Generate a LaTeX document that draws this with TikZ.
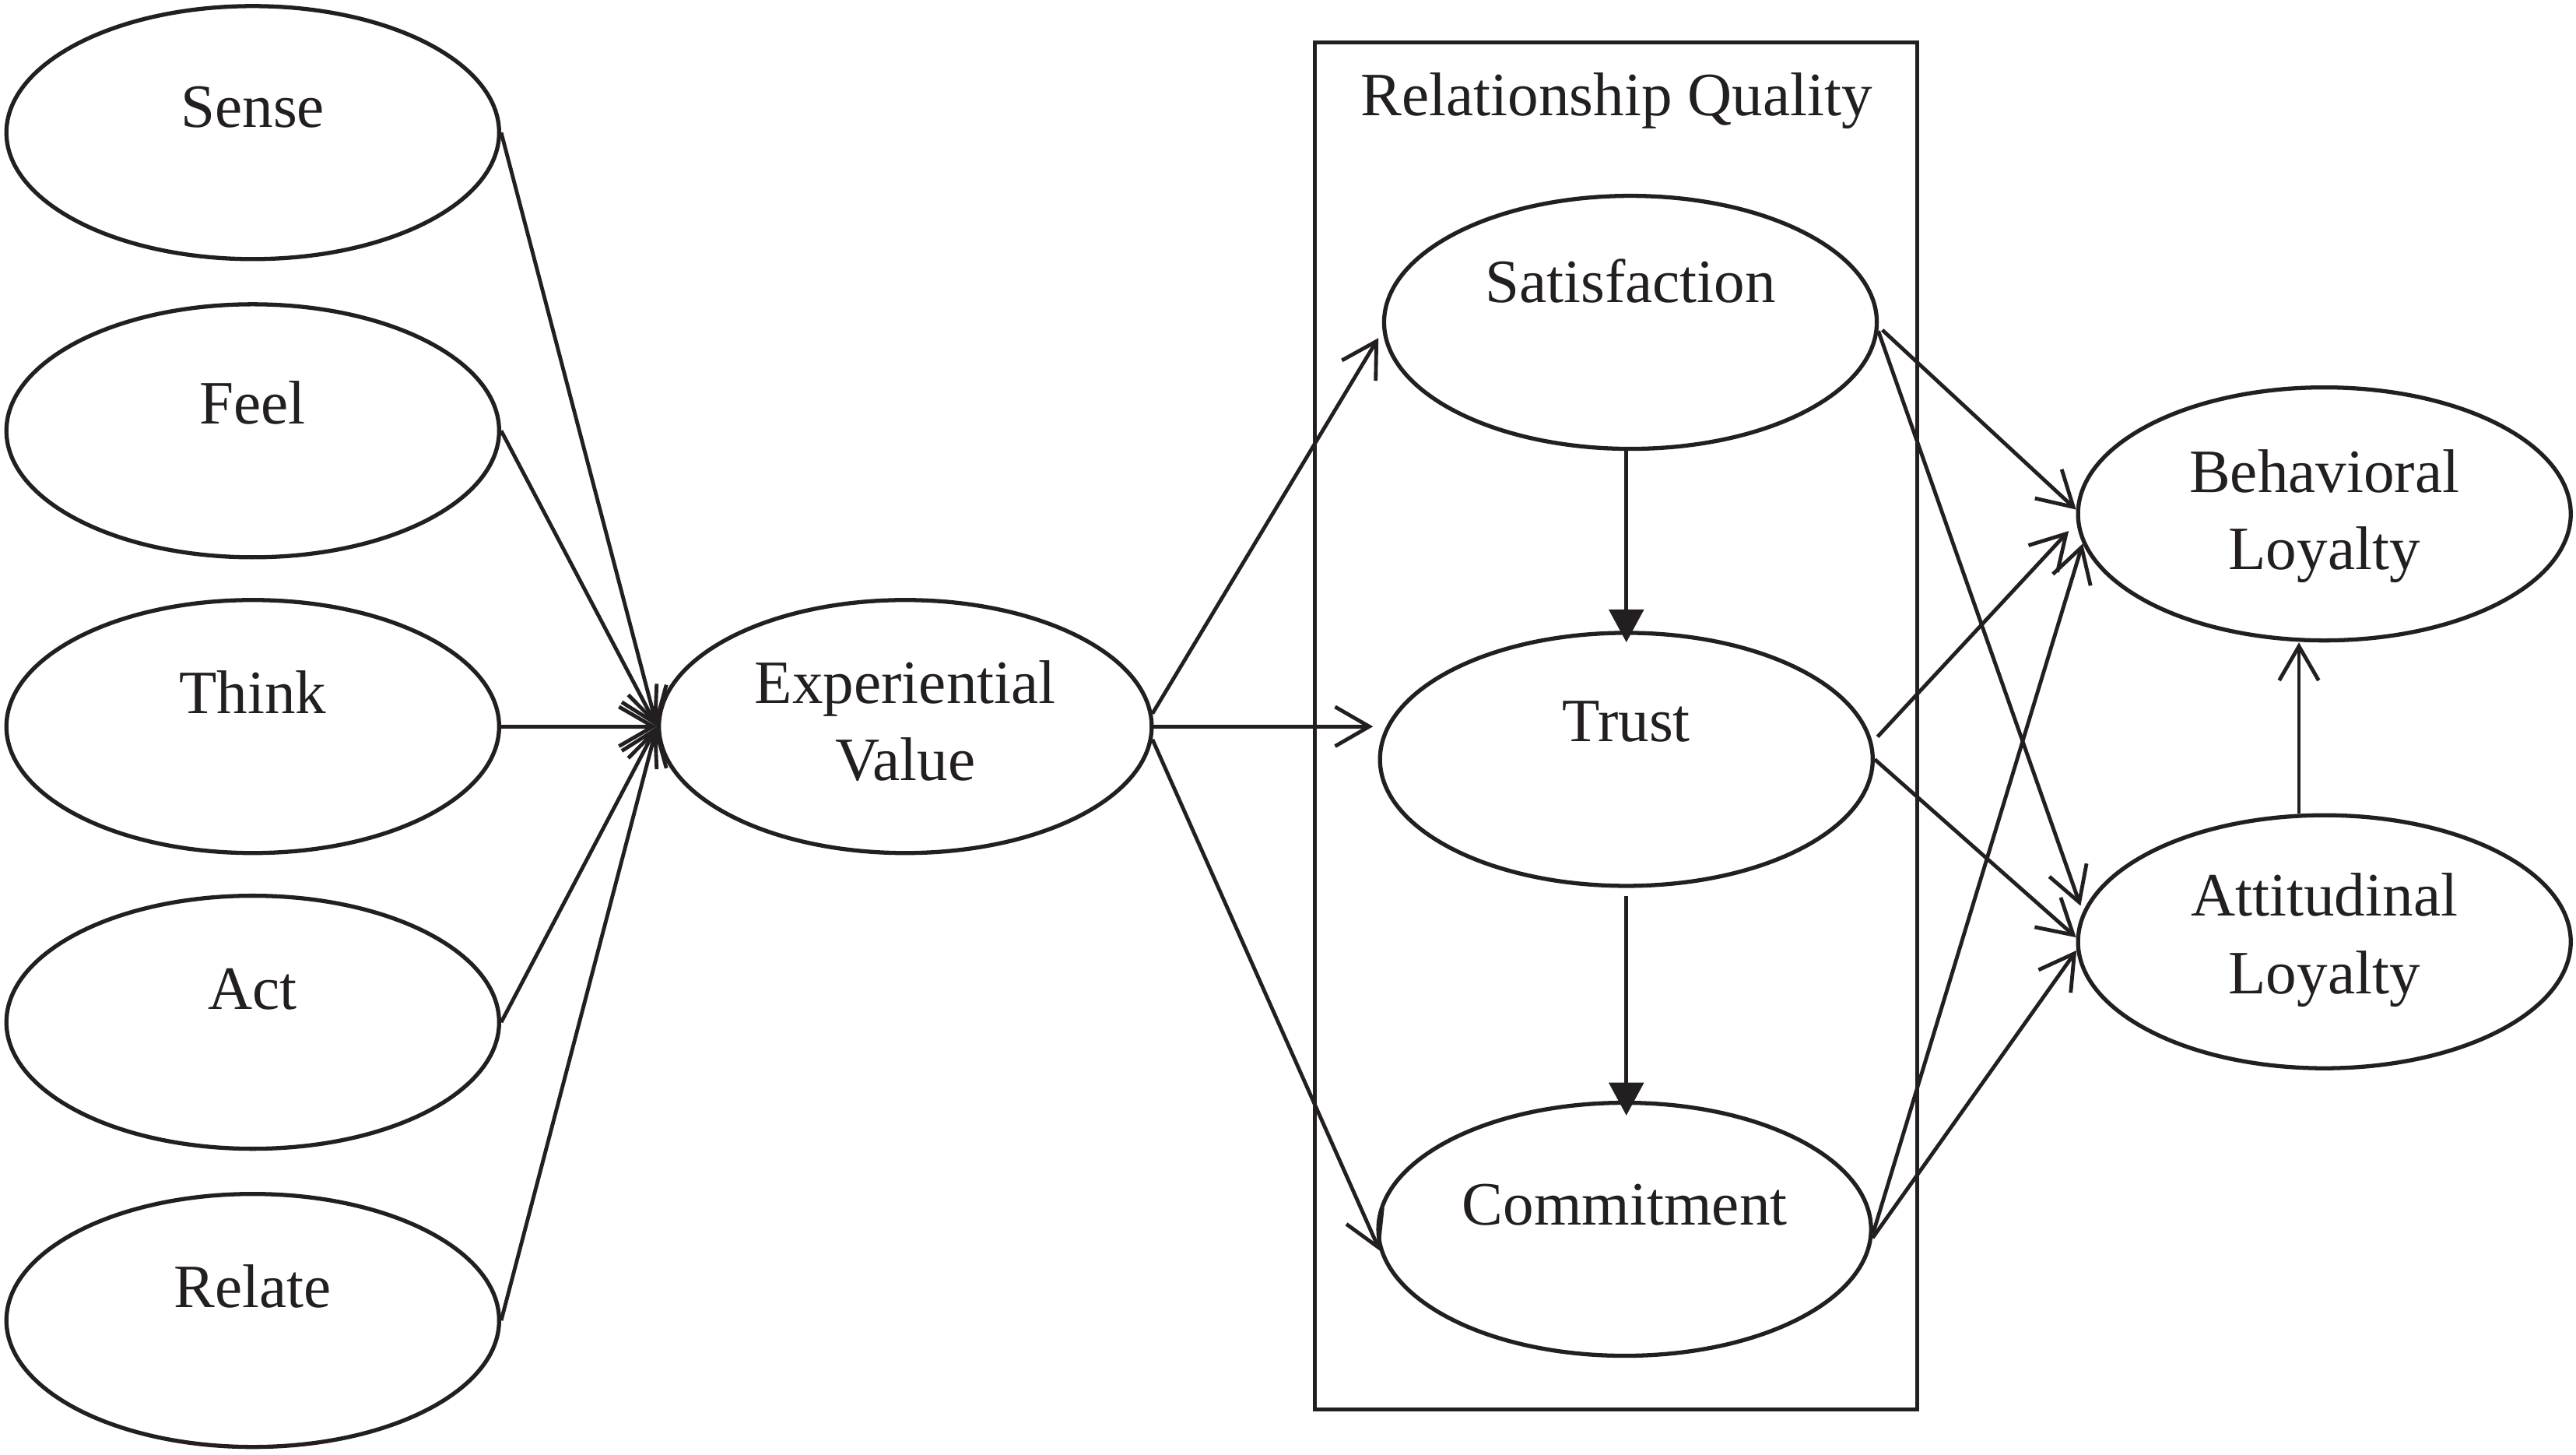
\documentclass[tikz,border=0pt]{standalone}
\usepackage{fontspec}
\setmainfont{Liberation Serif}
\usetikzlibrary{shapes.geometric,arrows.meta,calc}
\definecolor{ink}{RGB}{35,31,32}
\begin{document}
\begin{tikzpicture}[x=1pt,y=-1pt,
  every path/.style={draw=ink},
  ell/.style={draw=ink, ellipse, line width=2.5pt, minimum width=300pt, minimum height=154pt, inner sep=0pt},
  txt/.style={text=ink, inner sep=0pt, align=center, font=\fontsize{37.5pt}{47pt}\selectfont},
  arr/.style={draw=ink, line width=2.3pt, -{Straight Barb[angle=60:24pt, color=ink]}},
  tri/.style={draw=ink, line width=2.3pt, -{Triangle[length=20pt, width=21pt, color=ink]}},
  frame/.style={draw=ink, line width=2.3pt, minimum width=366.5pt, minimum height=832pt, inner sep=0pt}
]
\useasboundingbox (0,0) rectangle (1568,885);
\fill[white] (0,0) rectangle (1568,885);

% Relationship quality frame
\node[frame] (rq) at (983.75,441.5) {};
\node[txt] (rqtitle) at (984,61) {Relationship Quality};

% left column
\node[ell] (sense)  at (153.7,80.5) {};
\node[ell] (feel)   at (153.7,262) {};
\node[ell] (think)  at (153.7,442) {};
\node[ell] (act)    at (153.7,622) {};
\node[ell] (relate) at (153.7,803.5) {};
\node[txt] (senseT)  at (153.7,65) {Sense};
\node[txt] (feelT)   at (153.7,245) {Feel};
\node[txt] (thinkT)  at (153.7,421) {Think};
\node[txt] (actT)    at (153.7,602) {Act};
\node[txt] (relateT) at (153.7,783) {Relate};

% experiential value
\node[ell] (ev) at (551,442) {};
\node[txt] (evT) at (551,438.5) {Experiential\\Value};

% relationship quality
\node[ell] (sat)   at (992.5,196) {};
\node[ell] (trust) at (990,462) {};
\node[ell] (com)   at (989,748) {};
\node[txt] (satT)   at (992.5,171) {Satisfaction};
\node[txt] (trustT) at (990,439) {Trust};
\node[txt] (comT)   at (989,733) {Commitment};

% loyalty
\node[ell] (beh) at (1415,312.6) {};
\node[ell] (att) at (1415,573) {};
\node[txt] (behT) at (1415,314) {Behavioral\\Loyalty};
\node[txt] (attT) at (1415,572) {Attitudinal\\Loyalty};

% connectors
\draw[arr] (sense.east)  -- (ev.west);
\draw[arr] (feel.east)   -- (ev.west);
\draw[arr] (think.east)  -- (ev.west);
\draw[arr] (act.east)    -- (ev.west);
\draw[arr] (relate.east) -- (ev.west);

\draw[arr, shorten >=5pt] (ev.3) -- (sat.182);
\draw[arr, shorten >=3pt] (ev) -- (ev -| trust.west);
\draw[arr] (ev.-3) -- (com.185);

\draw[tri, shorten >=-7pt] (trust.north |- sat.south) -- (trust.north);
\draw[tri, shorten <=5pt, shorten >=-9pt] (trust.south) -- (trust.south |- com.north);

\draw[arr, shorten <=3pt] (sat.-1) -- (beh.179);
\draw[arr, shorten >=4pt] (sat.-2) -- (att.173);
\draw[arr, shorten <=4.5pt, shorten >=7pt] (trust.4) -- (beh.182);
\draw[arr] (trust.east) -- (att.179);
\draw[arr] (com.-1) -- (beh.187);
\draw[arr] (com.-2) -- (att.182);

\draw[arr] ([xshift=-15.5pt]att.north) -- ([xshift=-15.5pt]beh.south);
\end{tikzpicture}
\end{document}
